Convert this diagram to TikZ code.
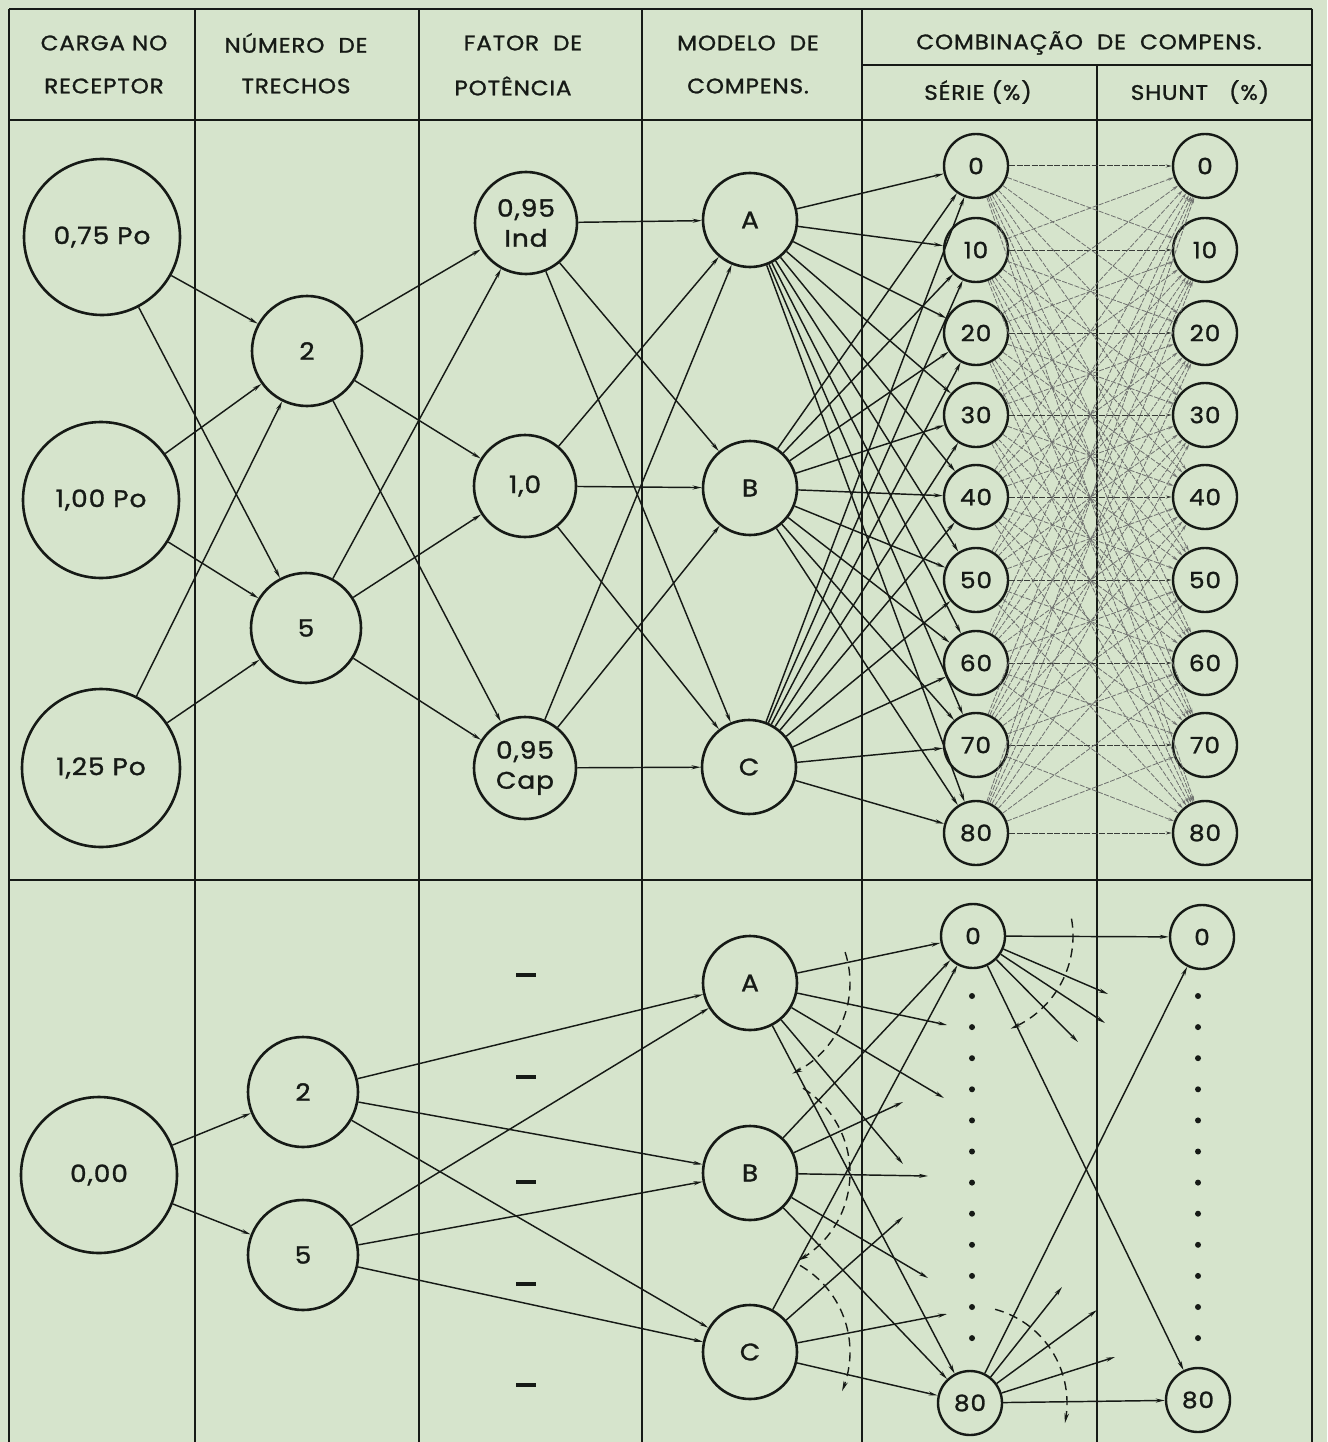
\documentclass[tikz,border=0pt]{standalone}
\usepackage{fontspec}
\setmainfont{Poppins}[FakeStretch=1.1,LetterSpace=4,FakeBold=1.2]
\usetikzlibrary{arrows.meta}
\definecolor{paper}{RGB}{214,228,204}
\definecolor{ink}{RGB}{22,26,22}
\begin{document}
\begin{tikzpicture}[x=1pt,y=-1pt,
  every node/.style={text=ink},
  big/.style={circle,draw=ink,line width=2.6pt,fill=paper,inner sep=0pt,minimum size=#1,
    font=\fontsize{24}{30}\selectfont,align=center},
  sm/.style={circle,draw=ink,line width=2.4pt,fill=paper,inner sep=0pt,minimum size=64pt,
    font=\fontsize{22.5}{24}\selectfont},
  hdr/.style={font=\fontsize{21}{22}\selectfont,inner sep=0pt},
  tab/.style={line width=2.3pt,draw=ink},
  conn/.style={line width=1.45pt,draw=ink,-{Stealth[length=9pt,width=4pt]}},
  mesh/.style={line width=0.8pt,draw=ink!62,dash pattern=on 5pt off 1.5pt,
    -{Stealth[length=6pt,width=3pt]}},
  meshh/.style={line width=1pt,draw=ink!85,dash pattern=on 6pt off 1.5pt,
    -{Stealth[length=6pt,width=3pt]}},
  arcd/.style={line width=1.4pt,draw=ink,dash pattern=on 9pt off 6pt,
    -{Stealth[length=10pt,width=4.5pt]}},
  dsh/.style={rectangle,fill=ink,inner sep=0pt,minimum width=20pt,minimum height=4.5pt},
  dot/.style={circle,fill=ink,inner sep=0pt,minimum size=6pt}
]
\fill[paper] (0,0) rectangle (1327,1442);
\useasboundingbox (0,0) rectangle (1327,1442);

% ---- table grid ----
\draw[tab] (9,9) -- (1312,9);
\draw[tab] (862,65) -- (1312,65);
\draw[tab] (9,120) -- (1312,120);
\draw[tab] (9,880) -- (1312,880);
\foreach \xx in {9,195,419,642,862,1312} \draw[tab] (\xx,9) -- (\xx,1442);
\draw[tab] (1097,65) -- (1097,1442);

% ---- header ----
\node[hdr] (hA1) at (104,43) {CARGA NO};
\node[hdr] (hA2) at (104,86) {RECEPTOR};
\node[hdr] (hB1) at (296,43) {NÚMERO\ \ DE};
\node[hdr] (hB2) at (296,86) {TRECHOS};
\node[hdr] (hC1) at (523,43) {FATOR\ \ DE};
\node[hdr] (hC2) at (513,86) {POTÊNCIA};
\node[hdr] (hD1) at (748,43) {MODELO\ \ DE};
\node[hdr] (hD2) at (748,86) {COMPENS.};
\node[hdr] (hE)  at (1089,43) {COMBINAÇÃO\ \ DE\ \ COMPENS.};
\node[hdr] (hF)  at (978,92) {SÉRIE (\%)};
\node[hdr] (hG)  at (1200,92) {SHUNT\ \ \ (\%)};

% ---- upper block nodes ----
\node[big=156pt] (c075) at (102,237) {0,75 Po};
\node[big=156pt] (c100) at (101,500) {1,00 Po};
\node[big=158pt] (c125) at (101,768) {1,25 Po};
\node[big=110pt] (t2) at (307,351) {2};
\node[big=110pt] (t5) at (306,628) {5};
\node[big=102pt] (fInd) at (526,223) {0,95\\Ind};
\node[big=102pt] (f10)  at (525,486) {1,0};
\node[big=102pt] (fCap) at (525,768) {0,95\\Cap};
\node[big=94pt] (mA) at (750,220) {A};
\node[big=94pt] (mB) at (750,488) {B};
\node[big=94pt] (mC) at (749,767) {C};
\foreach \i/\yy in {0/166,1/250,2/333,3/415,4/497,5/580,6/663,7/745,8/833}{
  \pgfmathtruncatemacro\lab{10*\i}
  \node[sm] (s\i) at (976,\yy) {\lab};
  \node[sm] (h\i) at (1205,\yy) {\lab};
}

% ---- upper block connectors ----
\foreach \a in {c075,c100,c125} \foreach \b in {t2,t5} \draw[conn] (\a) -- (\b);
\foreach \a in {t2,t5} \foreach \b in {fInd,f10,fCap} \draw[conn] (\a) -- (\b);
\foreach \a in {fInd,f10,fCap} \foreach \b in {mA,mB,mC} \draw[conn] (\a) -- (\b);
\foreach \a in {mA,mB,mC} \foreach \i in {0,...,8} \draw[conn] (\a) -- (s\i);
\foreach \i in {0,...,8} \foreach \j in {0,...,8} {
  \ifnum\i=\j \draw[meshh] (s\i) -- (h\j); \else \draw[mesh] (s\i) -- (h\j); \fi
}

% ---- lower block nodes ----
\node[big=156pt] (c000) at (99,1175) {0,00};
\node[big=110pt] (b2) at (303,1092) {2};
\node[big=110pt] (b5) at (303,1255) {5};
\foreach \k/\yy in {1/975,2/1077,3/1182,4/1284,5/1385} \node[dsh] (d\k) at (526,\yy) {};
\node[big=94pt] (bA) at (750,983) {A};
\node[big=94pt] (bB) at (750,1173) {B};
\node[big=94pt] (bC) at (750,1352) {C};
\node[sm] (bs0) at (973,936) {0};
\node[sm] (bs80) at (970,1403) {80};
\node[sm] (bh0) at (1202,937) {0};
\node[sm] (bh80) at (1198,1400) {80};
\foreach \k in {0,...,11}{
  \pgfmathsetmacro\yy{996+31.1*\k}
  \node[dot] (sd\k) at (972,\yy) {};
  \node[dot] (hd\k) at (1198,\yy) {};
}

% free ends of the partial arrows
\coordinate (a1) at (947,1025);
\coordinate (a2) at (944,1098);
\coordinate (a3) at (903,1164);
\coordinate (e1) at (903,1102);
\coordinate (e2) at (928,1176);
\coordinate (e3) at (928,1278);
\coordinate (g1) at (903,1217);
\coordinate (g2) at (947,1314);
\coordinate (p1) at (1108,994);
\coordinate (p2) at (1105,1023);
\coordinate (p3) at (1078,1042);
\coordinate (q1) at (1062,1287);
\coordinate (q2) at (1097,1310);
\coordinate (q3) at (1115,1357);

% ---- lower block connectors ----
\draw[conn] (c000) -- (b2);
\draw[conn] (c000) -- (b5);
\foreach \a in {b2,b5} \foreach \b in {bA,bB,bC} \draw[conn] (\a) -- (\b);
\foreach \a in {bA,bB,bC} {\draw[conn] (\a) -- (bs0); \draw[conn] (\a) -- (bs80);}
\foreach \b in {a1,a2,a3} \draw[conn] (bA) -- (\b);
\foreach \b in {e1,e2,e3} \draw[conn] (bB) -- (\b);
\foreach \b in {g1,g2} \draw[conn] (bC) -- (\b);
\draw[conn] (bs0) -- (bh0);
\draw[conn] (bs0) -- (bh80);
\draw[conn] (bs80) -- (bh0);
\draw[conn] (bs80) -- (bh80);
\foreach \b in {p1,p2,p3} \draw[conn] (bs0) -- (\b);
\foreach \b in {q1,q2,q3} \draw[conn] (bs80) -- (\b);

% ---- dashed arcs ----
\draw[arcd] plot[domain=-18:65,samples=40] ({750+100*cos(\x)},{983+100*sin(\x)});
\draw[arcd] plot[domain=-58:61,samples=50] ({750+100*cos(\x)},{1173+100*sin(\x)});
\draw[arcd] plot[domain=-60:23,samples=40] ({750+100*cos(\x)},{1352+100*sin(\x)});
\draw[arcd] plot[domain=-10:68,samples=40] ({973+100*cos(\x)},{936+100*sin(\x)});
\draw[arcd] plot[domain=-75:12,samples=40] ({970+97*cos(\x)},{1403+97*sin(\x)});
\end{tikzpicture}
\end{document}
